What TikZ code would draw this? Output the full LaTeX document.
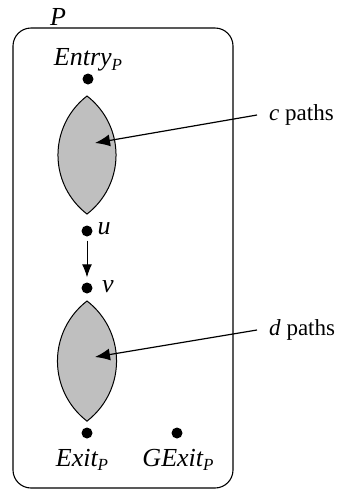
\documentclass[tikz,border=0pt]{standalone}
\usepackage{fontspec}
\setmainfont{Liberation Serif}
\usetikzlibrary{arrows.meta}
\newcommand{\subP}{\raisebox{-4.5pt}{\fontsize{17}{17}\selectfont P}}
\begin{document}
\begin{tikzpicture}[x=1pt,y=1pt,
  lbl/.style={font=\fontsize{26}{30}\selectfont\itshape, inner sep=0pt},
  txt/.style={font=\fontsize{23}{27}\selectfont, inner sep=0pt},
  dot/.style={circle, fill=black, inner sep=0pt, minimum size=11pt},
  lens/.style={draw=black, line width=1pt, fill=black!25},
  ptr/.style={line width=1.2pt, -{Latex[length=15pt,width=12pt]}},
  vptr/.style={line width=1pt, -{Latex[length=13pt,width=10pt]}},
  frame/.style={draw=black, line width=1.1pt, rounded corners=18pt}]
\useasboundingbox (0,0) rectangle (338,-491);
% frame
\draw[frame] (13,-28) rectangle (233,-488);
\node[lbl] (plabel) at (58,-17) {P};
% lenses
\path[lens] (87,-96) arc[start angle=127.6,end angle=232.4,radius=74.5]
                     arc[start angle=-52.4,end angle=52.4,radius=74.5] -- cycle;
\path[lens] (87,-301) arc[start angle=127.6,end angle=232.4,radius=75.8]
                      arc[start angle=-52.4,end angle=52.4,radius=75.8] -- cycle;
% dots
\node[dot] (entry) at (88,-79) {};
\node[dot] (u) at (87,-231) {};
\node[dot] (v) at (87,-288) {};
\node[dot] (exit) at (87,-433) {};
\node[dot] (gexit) at (177,-433) {};
% labels
\node[lbl] (entryl) at (88,-60) {Entry\subP};
\node[lbl] (ul) at (104,-229) {u};
\node[lbl] (vl) at (108,-287) {v};
\node[lbl] (exitl) at (82,-460) {Exit\subP};
\node[lbl] (gexitl) at (178,-460) {GExit\subP};
% u -> v
\draw[vptr, shorten <=4pt, shorten >=5pt] (u) -- (v);
% path labels
\node[txt, anchor=west] (cl) at (269,-115) {\textit{c} paths};
\node[txt, anchor=west] (dl) at (269,-330) {\textit{d} paths};
\coordinate (ctip) at (95,-143);
\coordinate (dtip) at (95,-357);
\draw[ptr] ([xshift=-12pt]cl.west) -- (ctip);
\draw[ptr] ([xshift=-12pt]dl.west) -- (dtip);
\end{tikzpicture}
\end{document}
